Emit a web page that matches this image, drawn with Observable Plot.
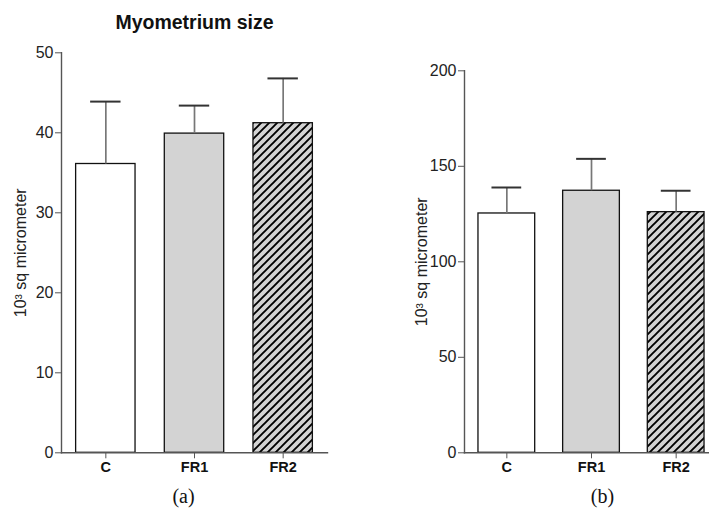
<!DOCTYPE html>
<html><head><meta charset="utf-8">
<script src="https://cdn.jsdelivr.net/npm/d3@7"></script>
<script src="https://cdn.jsdelivr.net/npm/@observablehq/plot@0.6"></script>
<style>
body{margin:0;background:#fff;}
#wrap{position:relative;width:709px;height:510px;overflow:hidden;background:#fff;}
#a{position:absolute;left:0;top:0;width:340px;height:510px;}
#b{position:absolute;left:350px;top:0;width:370px;height:510px;}
#wrap svg{max-width:none !important;height:510px !important;display:block;}
</style></head><body><div id="wrap"><div id="a"></div><div id="b"></div></div>
<script>
const groups = ["C", "FR1", "FR2"];
const meanA = [36.1, 39.9, 41.2];
const semA = [7.8, 3.5, 5.6];
const meanB = [125.3, 137.2, 126.0];
const semB = [13.6, 16.7, 11.2];
const ticksA = [0, 10, 20, 30, 40, 50];
const ticksB = [0, 50, 100, 150, 200];
const titleA = "Myometrium size";
const yLabel = "10³ sq micrometer";
const panelLabels = ["(a)", "(b)"];

const sans = "Liberation Sans, Arial, Helvetica, sans-serif";
const serif = "Liberation Serif, Times New Roman, serif";

function addHatch(svg, id) {
  const defs = d3.select(svg).insert("defs", ":first-child");
  const p = defs.append("pattern").attr("id", id)
    .attr("patternUnits", "userSpaceOnUse").attr("width", 8).attr("height", 8);
  p.append("rect").attr("width", 8).attr("height", 8).attr("fill", "#d3d3d3");
  p.append("path").attr("d", "M-2,2 L2,-2 M0,8 L8,0 M6,10 L10,6")
    .attr("stroke", "#000").attr("stroke-width", 1.9);
}

function panel({means, sems, ticks, domain, width, marginLeft, marginRight, marginTop, marginBottom, hatchId, capInset, labelDx, panelLabel, panelDx, title}) {
  const data = groups.map((g, i) => ({group: g, mean: means[i], sem: sems[i]}));
  const fills = ["#ffffff", "#d3d3d3", `url(#${hatchId})`];
  const marks = [
    Plot.barY(data, {x: "group", y: "mean", fill: "group", stroke: "#111", strokeWidth: 1.3}),
    Plot.ruleX(data, {x: "group", y1: "mean", y2: d => d.mean + d.sem, stroke: "#777", strokeWidth: 1.7}),
    Plot.tickY(data, {x: "group", y: d => d.mean + d.sem, stroke: "#333", strokeWidth: 2, insetLeft: capInset, insetRight: capInset}),
    Plot.frame({anchor: "left", stroke: "#555", strokeWidth: 1.4}),
    Plot.frame({anchor: "bottom", stroke: "#555", strokeWidth: 1.4}),
    Plot.axisY({ticks, tickSize: 6, tickPadding: 2, fontSize: 16, stroke: "#555", fill: "#222", label: null}),
    Plot.axisX({tickSize: 6, tickPadding: 3, fontSize: 14.5, fontWeight: "bold", stroke: "#555", fill: "#111", label: null}),
    Plot.text([yLabel], {text: d => d, frameAnchor: "left", textAnchor: "middle", lineAnchor: "middle", rotate: -90, dx: labelDx, fontSize: 16, fill: "#222"}),
    Plot.text([panelLabel], {text: d => d, frameAnchor: "bottom", textAnchor: "middle", lineAnchor: "middle", dx: panelDx, dy: 44, fontSize: 20, fontFamily: serif, fill: "#111"})
  ];
  if (title) marks.push(Plot.text([title], {text: d => d, frameAnchor: "top", textAnchor: "middle", lineAnchor: "middle", dy: -30, fontSize: 19.5, fontWeight: "bold", fill: "#111"}));
  const svg = Plot.plot({
    width, height: 510, marginLeft, marginRight, marginTop, marginBottom,
    style: {fontFamily: sans, background: "transparent", overflow: "visible"},
    x: {domain: groups, paddingInner: 0.33, paddingOuter: 0.165, align: 0.5, round: false, axis: null},
    y: {domain, axis: null},
    color: {type: "ordinal", domain: groups, range: fills},
    marks
  });
  addHatch(svg, hatchId);
  return svg;
}

document.getElementById("a").appendChild(panel({
  means: meanA, sems: semA, ticks: ticksA, domain: [0, 50], width: 340,
  marginLeft: 61, marginRight: 13, marginTop: 52.3, marginBottom: 57.7,
  hatchId: "hatchA", capInset: 14.5, labelDx: -41, panelLabel: panelLabels[0], panelDx: -11, title: titleA
}));
document.getElementById("b").appendChild(panel({
  means: meanB, sems: semB, ticks: ticksB, domain: [0, 200], width: 370,
  marginLeft: 114, marginRight: 2, marginTop: 70.3, marginBottom: 57.7,
  hatchId: "hatchB", capInset: 13.5, labelDx: -43, panelLabel: panelLabels[1], panelDx: 11, title: null
}));
</script></body></html>
